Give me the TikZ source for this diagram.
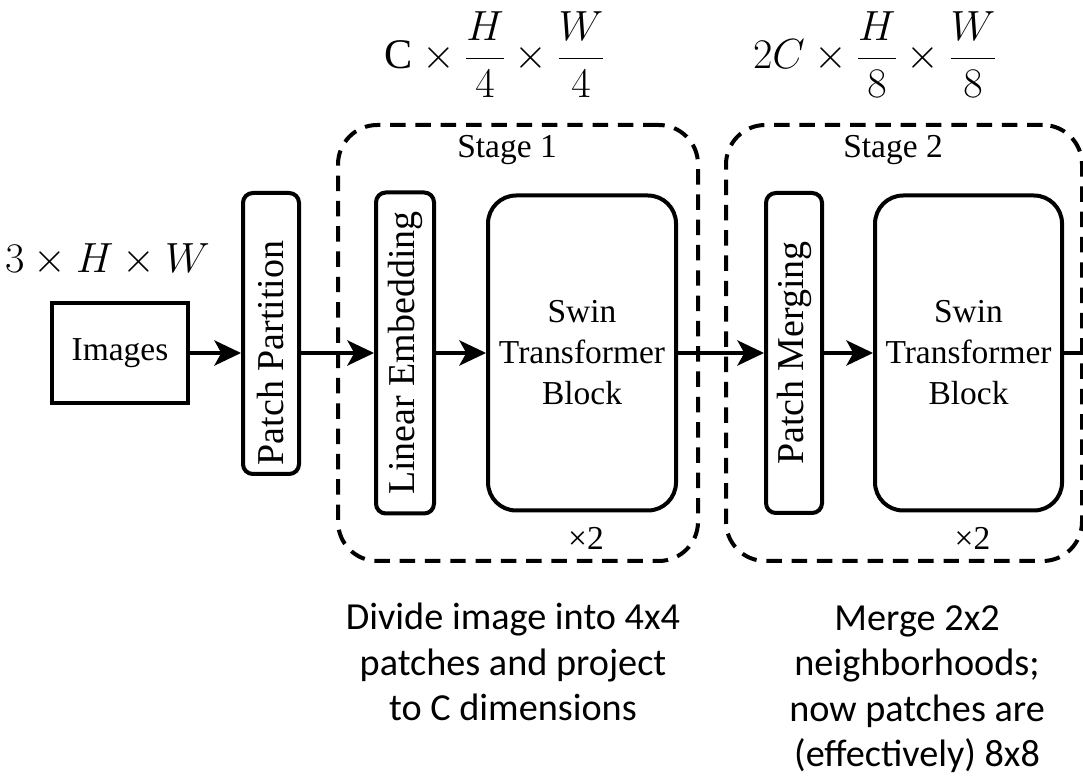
\RequirePackage{fix-cm}
\documentclass[tikz,border=0pt]{standalone}
\usepackage{fontspec}
\setmainfont{Liberation Serif}
\newfontfamily\notefont{Carlito}
\usepackage{graphicx}
\usepackage{tikz}
\usetikzlibrary{arrows.meta, positioning}

\begin{document}
\begin{tikzpicture}[
        box/.style={rectangle, draw, line width=2.85pt, inner sep=0pt, align=center, font=\fontsize{23.8}{29.2}\selectfont},
        barbox/.style={box, rounded corners=7pt, font=\fontsize{27}{32}\selectfont},
        swinbox/.style={box, rounded corners=20pt, minimum width=4.7cm, minimum height=7.875cm},
        stagebox/.style={rectangle, draw, line width=2.85pt, dash pattern=on 11pt off 7pt, rounded corners=28pt, minimum height=10.9cm},
        tag/.style={inner sep=0pt, font=\fontsize{23.8}{29.2}\selectfont},
        dims/.style={inner sep=0pt, font=\fontsize{30}{36}\selectfont},
        note/.style={inner sep=0pt, align=center, font=\notefont\fontsize{27.2}{32.4}\selectfont},
        arrow/.style={-{Stealth[length=19pt, width=18pt, inset=5pt]}, line width=2.3pt}
    ]
        \useasboundingbox (-3.0,8.825) rectangle (24.075,-10.7);

        % Input
        \node[box, minimum width=3.4cm, minimum height=2.5cm] (images) {Images};
        \node[dims, above=0.625cm of images, xshift=-0.3125cm] (dimzero) {$3\times H\times W$};

        % Patch partition (text sits on the flow line)
        \node[barbox, minimum width=1.4cm, minimum height=7.025cm, right=1.275cm of images, yshift=0.4875cm] (partition) {};
        \node[inner sep=0pt, font=\fontsize{27}{32}\selectfont] (partitiontext) at (partition |- images) {\rotatebox{90}{Patch Partition}};

        % Stage frames
        \node[stagebox, minimum width=9cm, right=0.875cm of partition, yshift=-0.2375cm] (stageone) {};
        \node[stagebox, minimum width=8.9cm, right=0.6cm of stageone] (stagetwo) {};

        % Stage 1
        \node[barbox, minimum width=1.45cm, minimum height=8.025cm, right=4.6cm of images] (embed) {\rotatebox{90}{Linear Embedding}};
        \node[swinbox, right=1.25cm of embed] (swinone) {Swin\\Transformer\\Block};
        \node[tag, below=0.31cm of stageone.north, xshift=-0.275cm] (stageonetag) {Stage 1};
        \node[tag, below=0.375cm of swinone, xshift=0.1cm] (timesone) {×2};

        % Stage 2
        \node[barbox, minimum width=1.4cm, minimum height=8cm, right=2.15cm of swinone] (merge) {\rotatebox{90}{Patch Merging}};
        \node[swinbox, minimum width=4.675cm, right=1.225cm of merge] (swintwo) {Swin\\Transformer\\Block};
        \node[tag, below=0.31cm of stagetwo.north, xshift=-0.275cm] (stagetwotag) {Stage 2};
        \node[tag, below=0.375cm of swintwo, xshift=0.1cm] (timestwo) {×2};
        \coordinate[right=0.95cm of swintwo] (exit);

        % Sizes above the stages
        \node[dims, above=0.625cm of stageone.north, xshift=-0.575cm] (dimone) {$\displaystyle\mathrm{C}\times\frac{H}{4}\times\frac{W}{4}$};
        \node[dims, above=0.625cm of stagetwo.north, xshift=-0.725cm] (dimtwo) {$\displaystyle 2C\times\frac{H}{8}\times\frac{W}{8}$};

        % Notes
        \node[note, below=1.0cm of stageone, xshift=-0.125cm] (noteone) {Divide image into 4x4\\patches and project\\to C dimensions};
        \node[note, below=1.05cm of stagetwo, xshift=0.325cm] (notetwo) {Merge 2x2\\neighborhoods;\\now patches are\\(effectively) 8x8};

        % Flow
        \draw[arrow] (images) -- (images -| partition.west);
        \draw[arrow] (embed -| partition.east) -- (embed);
        \draw[arrow] (embed) -- (swinone);
        \draw[arrow] (swinone) -- (merge);
        \draw[arrow] (merge) -- (swintwo);
        \draw[line width=2.3pt] (swintwo) -- (exit);

    \end{tikzpicture}
\end{document}
